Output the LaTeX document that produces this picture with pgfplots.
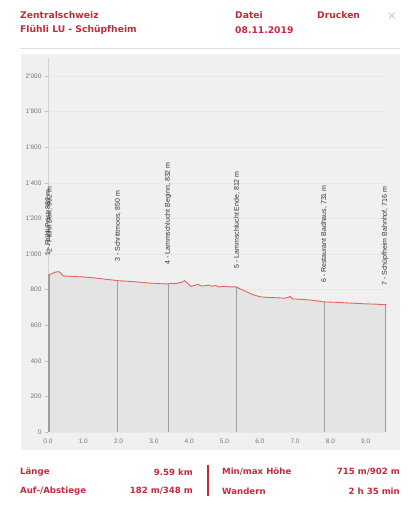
\documentclass[border=0pt]{standalone}
\usepackage{pgfplots}
\pgfplotsset{compat=1.18}
\usepackage{fontspec}
\setmainfont{Liberation Sans}
\newfontfamily\hdr{DejaVu Sans}
\definecolor{hred}{RGB}{200,40,60}
\definecolor{panel}{RGB}{240,240,240}
\definecolor{areagray}{RGB}{228,228,228}
\definecolor{prof}{RGB}{226,100,100}
\definecolor{ticktext}{RGB}{120,120,120}
\begin{document}
\begin{tikzpicture}[x=1pt,y=1pt]
\useasboundingbox (0,0) rectangle (412,512);
\fill[panel] (21,62) rectangle (400,458);
\draw[gray!25] (20,464) -- (400,464);
% header
\begin{scope}[every node/.style={inner sep=0pt, anchor=west, text=hred, font=\hdr\bfseries\fontsize{9.2}{11}\selectfont}]
\node at (20,497) {Zentralschweiz};
\node at (20,482) {Flühli LU - Schüpfheim};
\node at (235,497) {Datei};
\node at (235,482) {08.11.2019};
\node at (317,497) {Drucken};
\end{scope}
\node[inner sep=0pt, text=gray!50, font=\hdr\fontsize{11}{12}\selectfont] at (392,496) {×};
% footer
\begin{scope}[every node/.style={inner sep=0pt, text=hred, font=\hdr\bfseries\fontsize{8.6}{10}\selectfont}]
\node[anchor=west] at (20,40) {Länge};
\node[anchor=east] at (193,40) {9.59 km};
\node[anchor=west] at (222,40) {Min/max Höhe};
\node[anchor=east] at (400,40) {715 m/902 m};
\node[anchor=west] at (20,21) {Auf-/Abstiege};
\node[anchor=east] at (193,21) {182 m/348 m};
\node[anchor=west] at (222,21) {Wandern};
\node[anchor=east] at (400,21) {2 h 35 min};
\end{scope}
\draw[hred, line width=1.2pt] (208,47) -- (208,16);
\begin{axis}[
  at={(48pt,80pt)}, anchor=south west,
  scale only axis, width=338.5pt, height=373.8pt,
  xmin=0, xmax=9.59, ymin=0, ymax=2100,
  axis x line*=bottom, axis y line*=left,
  x axis line style={draw=none},
  y axis line style={-, draw=gray!35},
  xtick={0,1,...,9}, ytick={0,200,...,2000},
  xtick style={draw=none},
  ytick style={draw=gray!50},
  major tick length=3pt,
  tick align=outside,
  ymajorgrids, grid style={draw=gray!18},
  /pgf/number format/assume math mode=true,
  xticklabel style={font=\fontsize{6.5}{7}\selectfont, text=ticktext, /pgf/number format/.cd, fixed, fixed zerofill, precision=1},
  yticklabel style={font=\fontsize{6.5}{7}\selectfont, text=ticktext, /pgf/number format/.cd, 1000 sep={'}},
  clip=false,
]
\addplot[fill=areagray, draw=none] coordinates {
(0.00,882) (0.10,888) (0.20,898) (0.30,901) (0.36,894) (0.42,878) (0.50,876)
(0.80,873) (1.00,871) (1.30,866) (1.60,859) (2.00,850) (2.40,845) (2.80,838)
(3.20,833) (3.40,832) (3.50,836) (3.60,833) (3.70,838) (3.80,842) (3.87,850)
(3.95,836) (4.05,818) (4.15,824) (4.25,830) (4.35,820) (4.45,822) (4.55,826)
(4.65,819) (4.75,823) (4.85,815) (5.00,818) (5.15,815) (5.33,815) (5.45,803)
(5.60,790) (5.80,772) (6.00,760) (6.20,756) (6.50,754) (6.70,752) (6.82,757)
(6.86,762) (6.92,748) (7.20,745) (7.50,740) (7.82,731) (8.20,728) (8.60,724)
(9.00,720) (9.30,718) (9.59,715)
} \closedcycle;
\addplot[ycomb, draw=gray!75, line width=0.8pt, mark=none] coordinates {
(0.00,882) (0.04,886) (1.98,850) (3.40,832) (5.35,815) (7.82,731) (9.55,716)
};
\addplot[prof, line width=0.9pt, mark=none] coordinates {
(0.00,882) (0.10,888) (0.20,898) (0.30,901) (0.36,894) (0.42,878) (0.50,876)
(0.80,873) (1.00,871) (1.30,866) (1.60,859) (2.00,850) (2.40,845) (2.80,838)
(3.20,833) (3.40,832) (3.50,836) (3.60,833) (3.70,838) (3.80,842) (3.87,850)
(3.95,836) (4.05,818) (4.15,824) (4.25,830) (4.35,820) (4.45,822) (4.55,826)
(4.65,819) (4.75,823) (4.85,815) (5.00,818) (5.15,815) (5.33,815) (5.45,803)
(5.60,790) (5.80,772) (6.00,760) (6.20,756) (6.50,754) (6.70,752) (6.82,757)
(6.86,762) (6.92,748) (7.20,745) (7.50,740) (7.82,731) (8.20,728) (8.60,724)
(9.00,720) (9.30,718) (9.59,715)
};
\addplot[draw=none, mark=none, nodes near coords, point meta=explicit symbolic,
  nodes near coords style={yshift=19pt, rotate=90, anchor=west, inner sep=0pt,
    font=\fontsize{7}{8}\selectfont, text=black!80}] coordinates {
(0.00,882) [1 - Flühli Post, 882 m]
(0.04,902) [2 - Flühli Dorf, 902 m]
(1.98,850) [3 - Schrittmoos, 850 m]
(3.40,832) [4 - Lammschlucht Beginn, 832 m]
(5.35,812) [5 - Lammschlucht Ende, 812 m]
(7.82,731) [6 - Restaurant Badhaus, 731 m]
(9.55,716) [7 - Schüpfheim Bahnhof, 716 m]
};
\end{axis}
\end{tikzpicture}
\end{document}
